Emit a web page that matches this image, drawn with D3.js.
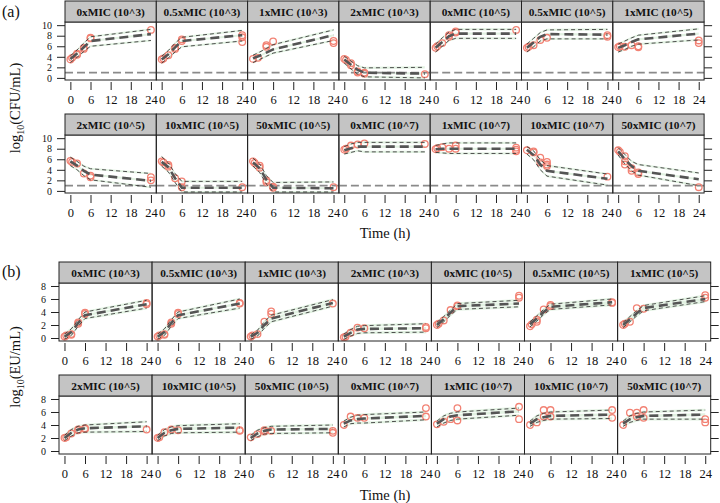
<!DOCTYPE html>
<html><head><meta charset="utf-8">
<script src="https://cdn.jsdelivr.net/npm/d3@7"></script>
<style>
body{margin:0;background:#fff;}
</style></head>
<body><svg id="c" width="720" height="503"></svg>
<script>
// ---------- DATA ----------
const binTimes = [0, 2, 4, 6, 24];
const xTicks = [0, 6, 12, 18, 24];
const yTicksA = [0, 2, 4, 6, 8, 10];
const yTicksB = [0, 2, 4, 6, 8];
const loqA = 1;

const panelsA = ["0xMIC (10^3)","0.5xMIC (10^3)","1xMIC (10^3)","2xMIC (10^3)","0xMIC (10^5)","0.5xMIC (10^5)","1xMIC (10^5)",
                 "2xMIC (10^5)","10xMIC (10^5)","50xMIC (10^5)","0xMIC (10^7)","1xMIC (10^7)","10xMIC (10^7)","50xMIC (10^7)"];
const medA = [
 [3.6,4.6,5.8,7.0,8.3],[3.5,4.5,5.8,7.0,8.1],[3.7,4.2,4.8,5.4,8.1],[3.5,2.5,1.5,1.0,0.8],
 [5.7,6.8,7.9,8.4,8.4],[5.7,6.7,7.8,8.3,8.2],[5.7,6.2,6.8,7.3,8.4],
 [5.6,4.8,3.8,3.1,1.9],[5.5,4.5,2.4,0.6,0.6],[5.4,4.3,2.1,0.6,0.5],[7.7,8.1,8.4,8.4,8.4],[7.9,8.0,8.0,8.0,8.0],[7.8,6.8,5.0,3.8,2.3],[7.5,6.0,4.7,3.8,2.2]];
const loA = [
 [2.9,3.9,5.0,6.0,7.1],[2.8,3.8,4.9,5.9,7.0],[2.9,3.5,4.1,4.7,7.1],[2.8,1.7,0.7,0.2,0.0],
 [4.9,6.0,7.1,7.5,7.5],[4.9,5.9,7.0,7.4,7.4],[4.9,5.4,6.0,6.4,7.2],
 [4.8,4.0,2.9,2.1,0.7],[4.7,3.6,1.6,-0.2,-0.2],[4.7,3.5,1.3,-0.2,-0.2],[7.0,7.3,7.6,7.4,7.4],[7.3,7.2,7.1,7.1,7.1],[7.0,5.9,4.0,2.8,1.1],[6.8,5.1,3.8,3.0,1.0]];
const hiA = [
 [4.2,5.3,6.6,7.8,9.2],[4.1,5.2,6.6,7.7,9.0],[4.3,4.9,5.6,6.3,9.1],[4.1,3.2,2.3,1.9,2.0],
 [6.4,7.6,8.7,9.2,9.2],[6.4,7.5,8.6,9.1,9.2],[6.4,7.0,7.6,8.1,9.3],
 [6.4,5.6,4.7,4.2,3.3],[6.5,5.3,3.3,1.8,1.8],[6.2,5.1,2.9,1.6,1.7],[8.4,8.9,9.2,9.2,9.2],[8.6,8.9,9.1,9.1,9.1],[8.4,7.6,5.9,4.8,3.2],[8.2,6.9,5.6,5.0,3.4]];
const obsA = [
 [[0,3.5],[0.5,3.8],[2,4.6],[2,4.4],[4,5.7],[4,5.5],[6,7.5],[6,7.6],[24,9.1]],
 [[0,3.5],[0.5,3.7],[2,4.3],[4,5.5],[4,5.7],[6,7.0],[6,7.3],[24,8.1],[24,7.7],[24,6.8]],
 [[0,3.6],[1.5,3.8],[4,5.9],[4,6.2],[6,6.9],[24,7.0],[24,6.6]],
 [[0,3.6],[0.5,3.4],[2,2.8],[2,2.4],[4,1.2],[4,1.0],[6,0.8],[6,1.0],[24,0.7]],
 [[0,5.7],[0.5,6.0],[2,6.6],[4,7.8],[4,8.1],[6,8.6],[6,8.8],[24,9.1]],
 [[0,5.7],[0.5,5.9],[2,6.2],[4,7.2],[6,7.6],[24,8.1],[24,7.8]],
 [[0,5.8],[0.5,6.0],[2,5.9],[4,6.2],[6,6.0],[6,5.8],[24,7.1],[24,6.6]],
 [[0,5.7],[0.5,5.5],[2,5.2],[4,3.3],[6,2.6],[6,2.9],[24,2.6],[24,2.0]],
 [[0,5.6],[0.5,5.4],[2,4.9],[2,4.6],[4,2.4],[6,1.8],[6,0.7],[24,0.7]],
 [[0,5.6],[0.5,5.3],[2,4.8],[2,4.4],[4,2.0],[4,1.7],[6,0.8],[6,0.6],[24,0.7]],
 [[0,7.8],[0.5,8.0],[2,8.6],[4,8.8],[6,9.0],[24,8.9]],
 [[0,7.9],[0.5,8.1],[2,8.3],[4,8.0],[6,8.6],[6,8.0],[24,8.2],[24,7.8],[24,7.5]],
 [[0,7.7],[2,7.3],[2,7.5],[4,6.3],[4,5.4],[6,5.5],[6,5.0],[6,4.7],[24,2.7]],
 [[0,7.7],[0.5,7.4],[2,6.6],[2,5.6],[2,5.0],[4,4.3],[4,3.8],[6,3.5],[6,3.2],[24,0.7]]
];

const panelsB = panelsA.slice();
const medB = [
 [0.2,0.9,2.3,3.5,5.2],[0.2,0.9,2.3,3.5,5.3],[0.2,0.8,2.0,3.0,5.4],[0.2,0.8,1.3,1.4,1.5],
 [2.0,2.9,3.9,4.9,5.3],[2.1,3.0,4.0,4.8,5.5],[2.0,2.9,3.8,4.6,6.0],
 [2.0,2.8,3.3,3.5,3.8],[2.0,2.8,3.2,3.4,3.6],[2.0,2.7,3.1,3.3,3.4],[4.2,4.7,4.9,5.0,5.4],[4.2,4.9,5.3,5.5,6.1],[4.2,4.9,5.2,5.4,5.6],[4.2,4.9,5.2,5.4,5.6]];
const loB = [
 [-0.2,0.4,1.8,3.0,4.6],[-0.2,0.4,1.8,3.0,4.6],[-0.2,0.3,1.5,2.5,4.9],[-0.2,0.3,0.7,0.8,0.9],
 [1.6,2.5,3.5,4.4,4.8],[1.7,2.6,3.6,4.4,5.1],[1.6,2.5,3.4,4.2,5.6],
 [1.6,2.3,2.8,2.9,3.0],[1.6,2.3,2.7,2.8,2.9],[1.6,2.2,2.6,2.7,2.8],[3.7,4.2,4.3,4.3,4.8],[3.7,4.3,4.7,4.9,5.5],[3.8,4.4,4.7,4.9,5.0],[3.8,4.4,4.7,4.9,4.9]];
const hiB = [
 [0.6,1.4,2.8,4.0,5.8],[0.6,1.4,2.8,4.0,6.0],[0.5,1.2,2.5,3.5,5.9],[0.6,1.3,1.8,1.9,2.2],
 [2.4,3.3,4.3,5.3,5.8],[2.5,3.4,4.4,5.2,6.0],[2.4,3.3,4.2,5.0,6.5],
 [2.4,3.3,3.8,4.0,4.5],[2.4,3.3,3.7,3.9,4.2],[2.4,3.2,3.6,3.8,4.0],[4.6,5.2,5.5,5.6,6.0],[4.6,5.4,5.8,6.0,6.6],[4.6,5.4,5.8,6.0,6.3],[4.6,5.4,5.8,6.0,6.3]];
const obsB = [
 [[0,0.2],[0.5,0.4],[2,0.6],[2,0.5],[4,2.4],[4,2.2],[6,3.9],[6,3.7],[24,5.4],[24,5.2]],
 [[0,0.2],[0.5,0.4],[2,0.6],[2,0.5],[4,2.4],[4,2.2],[6,3.9],[6,3.7],[24,5.4],[24,5.3]],
 [[0,0.2],[0.5,0.4],[2,0.6],[4,2.5],[6,3.7],[6,4.1],[24,5.3]],
 [[0,0.1],[0.5,0.2],[2,0.8],[4,1.6],[6,1.5],[24,1.7],[24,1.5]],
 [[0,2.0],[0.5,2.2],[2,2.7],[4,4.3],[6,4.9],[6,5.0],[24,6.5],[24,6.2]],
 [[0,1.8],[0.5,2.1],[2,2.5],[2,2.8],[4,4.4],[6,4.9],[6,5.1],[24,5.5],[24,5.4]],
 [[0,2.0],[0.5,2.2],[2,2.5],[4,4.6],[6,4.5],[24,6.6],[24,6.2]],
 [[0,2.0],[0.5,2.1],[2,2.7],[4,3.3],[4,3.2],[6,3.4],[6,3.5],[24,3.3]],
 [[0,2.0],[0.5,2.1],[2,2.9],[4,3.3],[6,3.2],[24,3.2],[24,3.1]],
 [[0,2.1],[2,2.6],[4,3.2],[4,3.0],[6,3.1],[24,3.1],[24,2.8]],
 [[0,4.0],[2,5.3],[4,5.1],[6,5.1],[24,6.6],[24,5.3]],
 [[0,4.1],[2,4.5],[4,4.9],[6,6.6],[6,4.7],[24,6.8],[24,4.9]],
 [[0,4.0],[2,4.4],[4,6.3],[4,5.3],[6,6.3],[6,5.3],[24,6.3],[24,5.1]],
 [[0,4.0],[2,5.9],[4,5.9],[4,5.3],[6,6.3],[6,5.1],[24,4.9],[24,4.4]]
];

// ---------- LAYOUT ----------
const FONT = '"Liberation Serif","DejaVu Serif",serif';
const svg = d3.select("#c");
const sections = [
 {panels:panelsA, med:medA, lo:loA, hi:hiA, obs:obsA, yDom:[-0.4,10.6], yTicks:yTicksA, loq:loqA,
  x0:65, pw:91.3, rows:[{st:1,top:22,bot:80},{st:114,top:135,bot:193}], ytitle:"(CFU/mL)", ytY:108, tag:"(a)", tagY:17, timeY:238},
 {panels:panelsB, med:medB, lo:loB, hi:hiB, obs:obsB, yDom:[-0.46,8.46], yTicks:yTicksB, loq:null,
  x0:59, pw:93.1, rows:[{st:262,top:283,bot:341},{st:375,top:396,bot:454}], ytitle:"(EU/mL)", ytY:367, tag:"(b)", tagY:277, timeY:500}
];

sections.forEach(sec => {
  const x = d3.scaleLinear().domain([-1.6, 25.6]).range([0, sec.pw]);
  sec.rows.forEach((row, ri) => {
    const ph = row.bot - row.top;
    const y = d3.scaleLinear().domain(sec.yDom).range([ph, 0]);
    for (let ci = 0; ci < 7; ci++) {
      const idx = ri * 7 + ci;
      const px = sec.x0 + ci * sec.pw;
      const g = svg.append("g").attr("transform", `translate(${px},${row.top})`);
      const cid = `clip-${sec.tag.replace(/\W/g,"")}-${idx}`;
      g.append("clipPath").attr("id", cid).append("rect").attr("width", sec.pw).attr("height", ph);
      const inner = g.append("g").attr("clip-path", `url(#${cid})`);
      const band = w => d3.area().x((d,i)=>x(binTimes[i])).y0(d=>y(d - w)).y1(d=>y(d + w));
      [sec.lo[idx], sec.med[idx], sec.hi[idx]].forEach(arr => {
        inner.append("path").attr("d", band(0.2)(arr)).attr("fill", "#e2f2e2");
      });
      if (sec.loq !== null) {
        inner.append("line").attr("x1", 0).attr("x2", sec.pw).attr("y1", y(sec.loq)).attr("y2", y(sec.loq))
          .attr("stroke", "#8a8a8a").attr("stroke-width", 1.8).attr("stroke-dasharray", "8,4");
      }
      const line = d3.line().x((d,i)=>x(binTimes[i])).y(d=>y(d));
      inner.selectAll("circle.o").data(sec.obs[idx]).join("circle")
        .attr("cx", d=>x(d[0])).attr("cy", d=>y(d[1])).attr("r", 3.3)
        .attr("fill", "none").attr("stroke", "#f28274").attr("stroke-width", 1.3);
      [sec.lo[idx], sec.hi[idx]].forEach(arr => {
        inner.append("path").attr("d", line(arr)).attr("fill","none").attr("stroke","#3c3c3c")
          .attr("stroke-width", 0.9).attr("stroke-dasharray","4,3");
      });
      inner.append("path").attr("d", line(sec.med[idx])).attr("fill","none").attr("stroke","#555")
        .attr("stroke-width", 2.6).attr("stroke-dasharray","9,5");
      g.append("rect").attr("width", sec.pw).attr("height", ph).attr("fill","none").attr("stroke","#222").attr("stroke-width",1);
      const sg = svg.append("g").attr("transform", `translate(${px},${row.st})`);
      sg.append("rect").attr("width", sec.pw).attr("height", row.top - row.st)
        .attr("fill","#c4c4c4").attr("stroke","#222").attr("stroke-width",1);
      sg.append("text").attr("x", sec.pw/2).attr("y", (row.top-row.st)/2 + 4)
        .attr("text-anchor","middle").attr("font-weight","bold").attr("font-size", 11.3).attr("fill","#111")
        .attr("font-family", FONT).text(sec.panels[idx]);
      const xa = svg.append("g").attr("transform", `translate(${px},${row.bot + 2})`)
        .call(d3.axisBottom(x).tickValues(xTicks).tickSize(8).tickPadding(5));
      xa.attr("font-family", FONT);
      xa.select(".domain").remove();
      xa.selectAll("line").attr("stroke","#222");
      xa.selectAll("text").attr("font-size", 12.5).attr("fill","#111");
      if (ci === 0) {
        const ya = svg.append("g").attr("transform", `translate(${px},${row.top})`)
          .call(d3.axisLeft(y).tickValues(sec.yTicks).tickSize(8).tickPadding(5));
        ya.attr("font-family", FONT);
        ya.select(".domain").remove();
        ya.selectAll("line").attr("stroke","#222");
        ya.selectAll("text").attr("font-size", 10).attr("fill","#111");
      }
      if (ci === 6) {
        const ya = svg.append("g").attr("transform", `translate(${px + sec.pw},${row.top})`)
          .call(d3.axisRight(y).tickValues(sec.yTicks).tickSize(8).tickFormat(""));
        ya.select(".domain").remove();
        ya.selectAll("line").attr("stroke","#222");
      }
    }
  });
  svg.append("text").attr("x", 385).attr("y", sec.timeY).attr("text-anchor","middle")
    .attr("font-size", 14.5).attr("fill","#111").attr("font-family", FONT).text("Time (h)");
  const yt = svg.append("text").attr("transform", `translate(20,${sec.ytY}) rotate(-90)`)
    .attr("text-anchor","middle").attr("font-size", 14.5).attr("fill","#111").attr("font-family", FONT);
  yt.append("tspan").text("log");
  yt.append("tspan").attr("font-size", 10).attr("dy", 4).text("10");
  yt.append("tspan").attr("dy", -4).text(sec.ytitle);
  svg.append("text").attr("x", 2).attr("y", sec.tagY).attr("font-size", 16).attr("fill","#111")
    .attr("font-family", FONT).text(sec.tag);
});
</script></body></html>
